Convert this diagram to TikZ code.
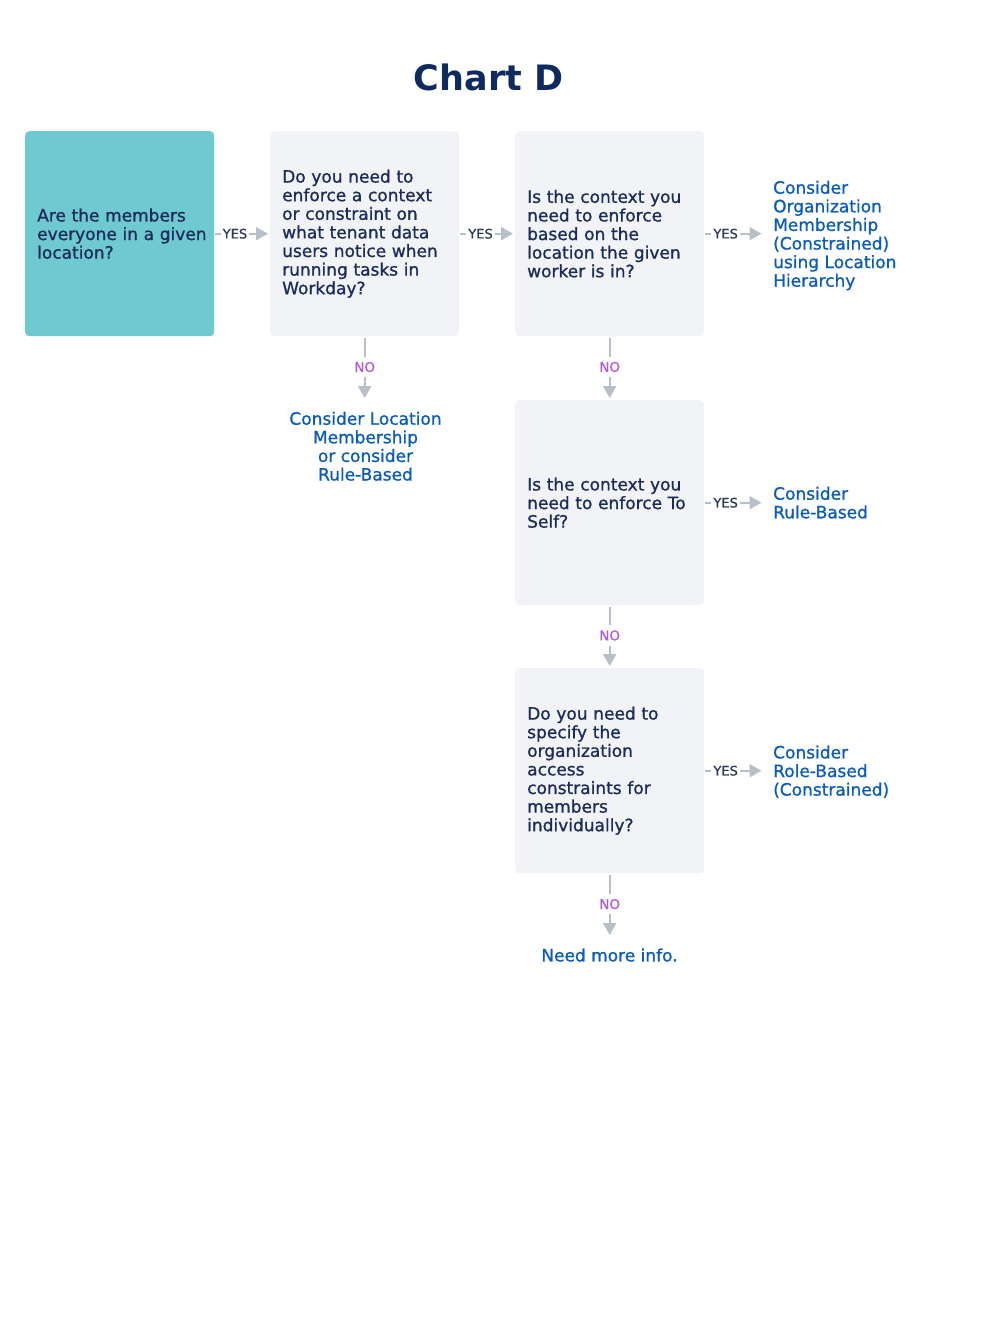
\documentclass[tikz,border=0pt]{standalone}
\usepackage{fontspec}
\setmainfont{DejaVu Sans}
\newfontfamily\medfont{DejaVu Sans}[BoldFont={DejaVu Sans}, BoldFeatures={FakeBold=1.0}]
\usetikzlibrary{arrows.meta}
\definecolor{titlenavy}{HTML}{0E2A5E}
\definecolor{boxtext}{HTML}{1B2C5A}
\definecolor{tealbox}{HTML}{6FC9D1}
\definecolor{boxgrey}{HTML}{F1F3F7}
\definecolor{outblue}{HTML}{0B5CB8}
\definecolor{nopurple}{HTML}{B05CD8}
\definecolor{conngrey}{HTML}{B7BFCA}
\definecolor{yestext}{HTML}{2E3A56}
\begin{document}
\begin{tikzpicture}[x=1pt,y=-1pt,
  qbox/.style={rounded corners=4pt, anchor=north west, minimum width=189pt,
    minimum height=205pt, text width=165pt, inner xsep=12pt, inner ysep=0pt,
    align=left, text=boxtext, font=\medfont\bfseries\fontsize{17}{18.6}\selectfont},
  startbox/.style={qbox, fill=tealbox},
  greybox/.style={qbox, fill=boxgrey},
  outcome/.style={inner sep=0pt, text=outblue, font=\medfont\bfseries\fontsize{17}{18.6}\selectfont},
  conn/.style={draw=conngrey, line width=2pt, -{Triangle[width=13pt,length=12pt]}},
  yeslbl/.style={fill=white, text=yestext, font=\medfont\bfseries\fontsize{13}{13}\selectfont, inner xsep=2pt, inner ysep=3pt},
  nolbl/.style={fill=white, text=nopurple, font=\medfont\bfseries\fontsize{13.5}{13.5}\selectfont, inner xsep=2pt, inner ysep=5pt},
]
\useasboundingbox (0,0) rectangle (1000,1319);

\node[anchor=base, text=titlenavy, font=\fontsize{35}{35}\selectfont\bfseries] (title) at (488.5,90.5) {Chart D};

\node[startbox] (b1) at (25,131) {\mbox{Are the members}\\\mbox{everyone in a given}\\\mbox{location?}};
\node[greybox] (b2) at (270,131) {\mbox{Do you need to}\\\mbox{enforce a context}\\\mbox{or constraint on}\\\mbox{what tenant data}\\\mbox{users notice when}\\\mbox{running tasks in}\\\mbox{Workday?}};
\node[greybox] (b3) at (515,131) {\mbox{Is the context you}\\\mbox{need to enforce}\\\mbox{based on the}\\\mbox{location the given}\\\mbox{worker is in?}};
\node[greybox] (b4) at (515,400) {\mbox{Is the context you}\\\mbox{need to enforce To}\\\mbox{Self?}};
\node[greybox] (b5) at (515,668) {\mbox{Do you need to}\\\mbox{specify the}\\\mbox{organization}\\\mbox{access}\\\mbox{constraints for}\\\mbox{members}\\\mbox{individually?}};

\node[outcome, anchor=north west, align=left] (o3) at (773,180.6) {Consider\\Organization\\Membership\\(Constrained)\\using Location\\Hierarchy};
\node[outcome, anchor=north west, align=left] (o4) at (773,486.6) {Consider\\Rule-Based};
\node[outcome, anchor=north west, align=left] (o5) at (773,745.3) {Consider\\Role-Based\\(Constrained)};
\node[outcome, anchor=north, align=center] (o2) at (365.5,411.6) {Consider Location\\Membership\\or consider\\Rule-Based};
\node[outcome, anchor=north, align=center] (o6) at (609.5,948.3) {Need more info.};

\draw[conn, shorten <=0.5pt, shorten >=2pt] (b1.east) -- node[yeslbl, pos=0.37] {YES} (b2.west);
\draw[conn, shorten <=0.5pt, shorten >=2pt] (b2.east) -- node[yeslbl, pos=0.38] {YES} (b3.west);
\draw[conn, shorten <=0.5pt, shorten >=11.5pt] (b3.east) -- node[yeslbl, pos=0.31] {YES} (b3.east -| o3.west);
\draw[conn, shorten <=0.5pt, shorten >=11.5pt] (b4.east) -- node[yeslbl, pos=0.31] {YES} (b4.east -| o4.west);
\draw[conn, shorten <=0.5pt, shorten >=11.5pt] (b5.east) -- node[yeslbl, pos=0.31] {YES} (b5.east -| o5.west);

\draw[conn, shorten <=1.5pt, shorten >=13.5pt] (b2.south) -- node[nolbl, pos=0.407] {NO} (b2.south |- o2.north);
\draw[conn, shorten <=1.5pt, shorten >=2pt] (b3.south) -- node[nolbl, pos=0.48] {NO} (b4.north);
\draw[conn, shorten <=1.5pt, shorten >=2pt] (b4.south) -- node[nolbl, pos=0.48] {NO} (b5.north);
\draw[conn, shorten <=1.5pt, shorten >=13.3pt] (b5.south) -- node[nolbl, pos=0.41] {NO} (b5.south |- o6.north);
\end{tikzpicture}
\end{document}
